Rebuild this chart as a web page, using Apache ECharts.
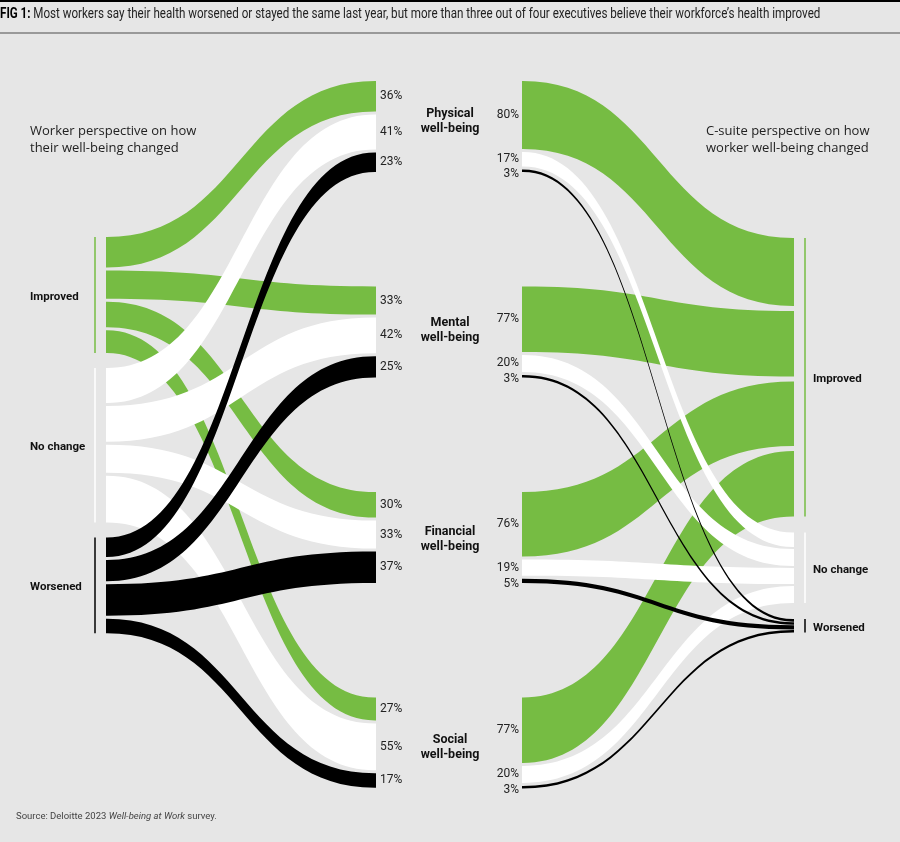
<!DOCTYPE html>
<html>
<head>
<meta charset="utf-8">
<title>Worker vs C-suite well-being</title>
<script src="https://cdn.jsdelivr.net/npm/echarts@6/dist/echarts.min.js"></script>
<style>
  html, body { margin: 0; padding: 0; background: #e6e6e6; }
  #chart { width: 900px; height: 842px; }
</style>
</head>
<body>
<div id="chart"></div>
<script>
const dimensions = ['Physical', 'Mental', 'Financial', 'Social'];
const dimensionLabels = ['Physical\nwell-being', 'Mental\nwell-being', 'Financial\nwell-being', 'Social\nwell-being'];
const changes = ['Improved', 'No change', 'Worsened'];

// workers, % per dimension
const workerImproved = [36, 33, 30, 27];
const workerNoChange = [41, 42, 33, 55];
const workerWorsened = [23, 25, 37, 17];

// C-suite, % per dimension
const execImproved = [80, 77, 76, 77];
const execNoChange = [17, 20, 19, 20];
const execWorsened = [3, 3, 5, 3];

const K = 0.85; // px per percentage point
const colors = ['#76bc43', '#ffffff', '#000000'];
const NARROW = '"Liberation Sans Narrow", "Roboto", sans-serif';

const workerByChange = [workerImproved, workerNoChange, workerWorsened];
const execByChange = [execImproved, execNoChange, execWorsened];
const byDim = (rows) => dimensions.map((_, d) => rows.map(r => r[d]));
const workerByDim = byDim(workerByChange);
const execByDim = byDim(execByChange);

// stack slices from a start, groups one after another
function stackFrom(groups, start, innerGap, groupGap) {
  let y = start;
  const pos = [], ext = [];
  groups.forEach((vals, g) => {
    const top = y, p = [];
    vals.forEach((v, i) => {
      p.push(y);
      y += v * K + (i < vals.length - 1 ? innerGap[g] : 0);
    });
    pos.push(p); ext.push([top, y]);
    y += groupGap;
  });
  return { pos, ext };
}
// stack slices inside groups with fixed tops
function stackAt(groups, tops, innerGap) {
  const pos = [], ext = [];
  groups.forEach((vals, g) => {
    let y = tops[g];
    const p = [];
    vals.forEach((v, i) => {
      p.push(y);
      y += v * K + (i < vals.length - 1 ? innerGap : 0);
    });
    pos.push(p); ext.push([tops[g], y]);
  });
  return { pos, ext };
}

const dimTops = dimensions.map((_, d) => 81 + d * 205.5);

const wSrc = stackFrom(workerByChange, 237, [3, 3, 3], 15);
const wTgt = stackAt(workerByDim, dimTops, 3);
const eSrc = stackAt(execByDim, dimTops, 3);
const eTgt = stackFrom(execByChange, 238, [5, 2, 0.5], 16);

const sum = (a) => a.reduce((s, v) => s + v, 0);
const wTotal = sum(workerByChange.map(sum));
const eTotal = sum(execByChange.map(sum));
const hLeft = wTotal * K;
const hRight = eTotal * K;

// left sankey: change (left) -> dimension (right)
const leftNodes = [], leftLinks = [];
changes.forEach((c, ci) => dimensions.forEach((d, di) => {
  leftNodes.push({
    name: 'ws' + ci + di, value: workerByChange[ci][di],
    localY: wSrc.pos[ci][di] / hLeft,
    itemStyle: { color: colors[ci] }, label: { show: false }
  });
}));
dimensions.forEach((d, di) => changes.forEach((c, ci) => {
  leftNodes.push({
    name: 'wt' + di + ci, value: workerByChange[ci][di],
    localY: wTgt.pos[di][ci] / hLeft,
    itemStyle: { color: colors[ci] },
    label: { show: true, position: 'right', distance: 4 }
  });
}));
changes.forEach((c, ci) => dimensions.forEach((d, di) => {
  leftLinks.push({
    source: 'ws' + ci + di, target: 'wt' + di + ci, value: workerByChange[ci][di],
    lineStyle: { color: colors[ci], opacity: 1 }
  });
}));

// right sankey: dimension (left) -> change (right)
const rightNodes = [], rightLinks = [];
dimensions.forEach((d, di) => changes.forEach((c, ci) => {
  rightNodes.push({
    name: 'es' + di + ci, value: execByChange[ci][di],
    localY: eSrc.pos[di][ci] / hRight,
    itemStyle: { color: colors[ci] },
    label: { show: true, position: 'left', distance: 3, offset: [0, ci === 2 ? 3 : 0] }
  });
}));
changes.forEach((c, ci) => dimensions.forEach((d, di) => {
  rightNodes.push({
    name: 'et' + ci + di, value: execByChange[ci][di],
    localY: eTgt.pos[ci][di] / hRight,
    itemStyle: { color: colors[ci] }, label: { show: false }
  });
}));
changes.forEach((c, ci) => dimensions.forEach((d, di) => {
  rightLinks.push({
    source: 'es' + di + ci, target: 'et' + ci + di, value: execByChange[ci][di],
    lineStyle: { color: colors[ci], opacity: 1 }
  });
}));

const sankeyBase = {
  type: 'sankey',
  top: 0,
  nodeWidth: 1,
  nodeGap: 0,
  layoutIterations: 0,
  draggable: false,
  emphasis: { disabled: true },
  label: {
    color: '#222', fontFamily: NARROW, fontSize: 12,
    formatter: (p) => p.value + '%'
  },
  lineStyle: { curveness: 0.5, opacity: 1 }
};

// decorations
const graphics = [
  { type: 'rect', shape: { x: 0, y: 0, width: 900, height: 2 }, style: { fill: '#000' } },
  { type: 'rect', shape: { x: 0, y: 32, width: 900, height: 2 }, style: { fill: '#999' } },
  {
    type: 'text', x: 0, y: 14, scaleX: 0.83,
    style: {
      text: '{b|FIG 1:} {r|Most workers say their health worsened or stayed the same last year, but more than three out of four executives believe their workforce\u2019s health improved}',
      verticalAlign: 'middle',
      rich: {
        b: { fontFamily: NARROW, fontWeight: 'bold', fontSize: 14, fill: '#000' },
        r: { fontFamily: NARROW, fontSize: 14, fill: '#222' }
      }
    }
  },
  {
    type: 'text', x: 30, y: 140,
    style: { text: 'Worker perspective on how\ntheir well-being changed', fontFamily: '"Open Sans", sans-serif', fontSize: 13, lineHeight: 17, fill: '#222', verticalAlign: 'middle' }
  },
  {
    type: 'text', x: 706, y: 140,
    style: { text: 'C-suite perspective on how\nworker well-being changed', fontFamily: '"Open Sans", sans-serif', fontSize: 13, lineHeight: 17, fill: '#222', verticalAlign: 'middle' }
  },
  {
    type: 'text', x: 16, y: 817,
    style: {
      text: '{n|Source: Deloitte 2023 }{i|Well-being at Work}{n| survey.}',
      verticalAlign: 'middle',
      rich: {
        n: { fontFamily: '"Roboto", sans-serif', fontSize: 9.5, fill: '#444' },
        i: { fontFamily: '"Roboto", sans-serif', fontSize: 9.5, fontStyle: 'italic', fill: '#444' }
      }
    }
  }
];
dimensionLabels.forEach((t, i) => {
  graphics.push({
    type: 'text', x: 450, y: [121, 330, 539, 747][i],
    style: { text: t, fontFamily: '"Roboto", sans-serif', fontWeight: 'bold', fontSize: 12.5, lineHeight: 15, fill: '#111', align: 'center', verticalAlign: 'middle' }
  });
});
changes.forEach((c, ci) => {
  const [l0, l1] = wSrc.ext[ci];
  const [r0, r1] = eTgt.ext[ci];
  graphics.push(
    { type: 'line', shape: { x1: 95, y1: l0, x2: 95, y2: l1 }, style: { stroke: colors[ci], lineWidth: 1.5 } },
    { type: 'line', shape: { x1: 805, y1: r0, x2: 805, y2: r1 }, style: { stroke: colors[ci], lineWidth: 1.5 } },
    { type: 'text', x: 30, y: (l0 + l1) / 2 + 2, style: { text: c, fontFamily: '"Roboto", sans-serif', fontWeight: 'bold', fontSize: 11.5, fill: '#111', verticalAlign: 'middle' } },
    { type: 'text', x: 813, y: (r0 + r1) / 2 + 2, style: { text: c, fontFamily: '"Roboto", sans-serif', fontWeight: 'bold', fontSize: 11.5, fill: '#111', verticalAlign: 'middle' } }
  );
});

const chart = echarts.init(document.getElementById('chart'));
chart.setOption({
  backgroundColor: '#e6e6e6',
  animation: false,
  graphic: graphics,
  series: [
    Object.assign({}, sankeyBase, { left: 106, width: 270, height: hLeft, data: leftNodes, links: leftLinks }),
    Object.assign({}, sankeyBase, { left: 522, width: 272, height: hRight, data: rightNodes, links: rightLinks })
  ]
});
</script>
</body>
</html>
